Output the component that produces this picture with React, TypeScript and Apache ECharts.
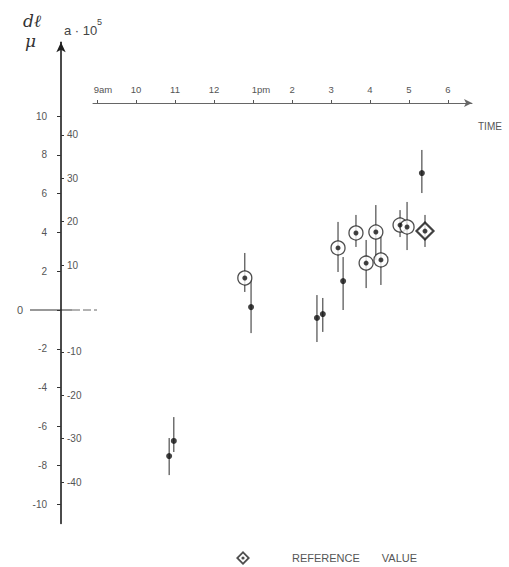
import React, { useEffect, useRef } from 'react';
import * as echarts from 'echarts';

// Time axis (hours, 24h clock) and its labels
const hours = [9, 10, 11, 12, 13, 14, 15, 16, 17, 18];
const hourLabels = ['9am', '10', '11', '12', '1pm', '2', '3', '4', '5', '6'];

// Left scale: dl/μ ; right scale: a·10^5
const dlTicks = [-10, -8, -6, -4, -2, 0, 2, 4, 6, 8, 10];
const aTicks = [-40, -30, -20, -10, 10, 20, 30, 40];

// Plain (filled dot) measurements: time, value, error-bar top, error-bar bottom
const plainTime = [10.85, 10.97, 12.95, 14.64, 14.79, 15.31, 17.33];
const plainValue = [-7.53, -6.75, 0.15, -0.41, -0.21, 1.49, 7.06];
const plainHigh = [-6.6, -5.52, 1.55, 0.77, 0.62, 2.73, 8.25];
const plainLow = [-8.51, -7.32, -1.19, -1.65, -1.13, 0.0, 6.03];

// Circled measurements
const circledTime = [12.79, 15.18, 15.64, 15.9, 16.15, 16.28, 16.77, 16.95];
const circledValue = [1.65, 3.2, 3.97, 2.42, 4.02, 2.58, 4.38, 4.28];
const circledHigh = [2.94, 4.54, 4.9, 3.61, 5.41, 3.76, 5.15, 5.57];
const circledLow = [0.93, 1.96, 3.25, 1.13, 2.58, 1.29, 3.76, 3.09];

// Reference value
const refTime = [17.41];
const refValue = [4.07];
const refHigh = [4.9];
const refLow = [3.25];

const FONT = 'Liberation Sans';
const LABEL_COLOR = '#555';

function errorBars(times: number[], hi: number[], lo: number[]) {
  return {
    type: 'custom',
    xAxisIndex: 0,
    yAxisIndex: 0,
    silent: true,
    z: 2,
    data: times.map((t, i) => [t, hi[i], lo[i]]),
    renderItem: (_params: any, api: any) => {
      const x = api.value(0);
      const p1 = api.coord([x, api.value(1)]);
      const p2 = api.coord([x, api.value(2)]);
      return {
        type: 'line',
        shape: { x1: p1[0], y1: p1[1], x2: p2[0], y2: p2[1] },
        style: { stroke: '#2a2a2a', lineWidth: 1 },
      };
    },
  };
}

const legendIcon =
  'path://M7 0 L14 7 L7 14 L0 7 Z M7 2.6 L2.6 7 L7 11.4 L11.4 7 Z M5.4 7 A1.6 1.6 0 1 1 8.6 7 A1.6 1.6 0 1 1 5.4 7 Z';

export default function App() {
  const ref = useRef<HTMLDivElement>(null);

  useEffect(() => {
    if (!ref.current) return;
    const chart = echarts.init(ref.current, null, { renderer: 'svg' });

    const option: any = {
      animation: false,
      backgroundColor: '#ffffff',
      grid: [
        { left: 61, top: 42.3, width: 411, height: 481.1, containLabel: false, outerBoundsMode: 'none' },
        { left: 93, top: 103, width: 379, height: 1, containLabel: false, outerBoundsMode: 'none' },
      ],
      xAxis: [
        { gridIndex: 0, type: 'value', min: 8.077, max: 18.615, show: false },
        {
          gridIndex: 1,
          type: 'value',
          position: 'top',
          min: 8.897,
          max: 18.615,
          axisLine: {
            show: true,
            onZero: false,
            lineStyle: { color: '#666', width: 1 },
            symbol: ['none', 'arrow'],
            symbolSize: [6, 8],
          },
          axisTick: { show: true, length: 3, customValues: hours, lineStyle: { color: '#555' } },
          axisLabel: {
            customValues: hours,
            margin: 9,
            fontSize: 9.5,
            fontFamily: FONT,
            color: LABEL_COLOR,
            formatter: (v: number) => {
              const i = hours.indexOf(Math.round(v));
              const s = i >= 0 ? hourLabels[i] : '';
              if (s === '9am') return '{s9|9am}';
              if (s === '1pm') return '{s1|1pm}';
              return s;
            },
            rich: {
              s9: { fontSize: 9.5, fontFamily: FONT, color: LABEL_COLOR, padding: [0, 0, 0, 12] },
              s1: { fontSize: 9.5, fontFamily: FONT, color: LABEL_COLOR, padding: [0, 0, 0, 16] },
            },
          },
          splitLine: { show: false },
        },
      ],
      yAxis: [
        {
          gridIndex: 0,
          type: 'value',
          position: 'left',
          min: -11,
          max: 13.8,
          axisLine: {
            show: true,
            onZero: false,
            lineStyle: { color: '#1e1e1e', width: 1.6 },
            symbol: ['none', 'arrow'],
            symbolSize: [7, 10],
          },
          axisTick: { show: true, length: 4, customValues: dlTicks, lineStyle: { color: '#333' } },
          axisLabel: {
            customValues: dlTicks,
            margin: 14,
            fontSize: 10,
            fontFamily: FONT,
            color: LABEL_COLOR,
            formatter: (v: number) => (Math.abs(v) < 1e-9 ? '{z|0}' : String(v)),
            rich: {
              z: { fontSize: 11, fontFamily: FONT, color: LABEL_COLOR, padding: [0, 24, 0, 0] },
            },
          },
          splitLine: { show: false },
        },
        {
          gridIndex: 0,
          type: 'value',
          position: 'left',
          min: -49.5,
          max: 61.3,
          axisLine: { show: false, onZero: false },
          axisTick: { show: true, inside: true, length: 3, customValues: aTicks, lineStyle: { color: '#333' } },
          axisLabel: {
            inside: true,
            customValues: aTicks,
            margin: 6,
            fontSize: 10,
            fontFamily: FONT,
            color: LABEL_COLOR,
          },
          splitLine: { show: false },
        },
        { gridIndex: 1, type: 'value', min: 0, max: 1, show: false },
      ],
      legend: {
        left: 236,
        top: 551,
        itemWidth: 14,
        itemHeight: 14,
        selectedMode: false,
        padding: 0,
        data: [
          {
            name: 'REFERENCE VALUE',
            icon: legendIcon,
            itemStyle: { color: '#222', borderWidth: 0 },
          },
        ],
        formatter: () => '{a|REFERENCE}{b|VALUE}',
        textStyle: {
          rich: {
            a: { fontSize: 11, fontFamily: FONT, color: LABEL_COLOR, padding: [0, 0, 0, 37] },
            b: { fontSize: 11, fontFamily: FONT, color: LABEL_COLOR, padding: [0, 0, 0, 22] },
          },
        },
      },
      series: [
        errorBars(plainTime, plainHigh, plainLow),
        errorBars(circledTime, circledHigh, circledLow),
        errorBars(refTime, refHigh, refLow),
        {
          name: 'circled',
          type: 'scatter',
          xAxisIndex: 0,
          yAxisIndex: 0,
          silent: true,
          z: 3,
          symbol: 'circle',
          symbolSize: 14,
          itemStyle: { color: '#ffffff', borderColor: '#222', borderWidth: 1.3 },
          data: circledTime.map((t, i) => [t, circledValue[i]]),
        },
        {
          name: 'REFERENCE VALUE',
          type: 'scatter',
          xAxisIndex: 0,
          yAxisIndex: 0,
          silent: true,
          z: 3,
          symbol: 'diamond',
          symbolSize: [17, 17],
          itemStyle: { color: '#ffffff', borderColor: '#111', borderWidth: 2.2 },
          data: refTime.map((t, i) => [t, refValue[i]]),
        },
        {
          name: 'plain dots',
          type: 'scatter',
          xAxisIndex: 0,
          yAxisIndex: 0,
          silent: true,
          z: 4,
          symbol: 'circle',
          symbolSize: 6,
          itemStyle: { color: '#111' },
          data: plainTime.map((t, i) => [t, plainValue[i]]),
        },
        {
          name: 'circled dots',
          type: 'scatter',
          xAxisIndex: 0,
          yAxisIndex: 0,
          silent: true,
          z: 4,
          symbol: 'circle',
          symbolSize: 5,
          itemStyle: { color: '#111' },
          data: circledTime.map((t, i) => [t, circledValue[i]]),
        },
        {
          name: 'ref dot',
          type: 'scatter',
          xAxisIndex: 0,
          yAxisIndex: 0,
          silent: true,
          z: 4,
          symbol: 'circle',
          symbolSize: 5,
          itemStyle: { color: '#111' },
          data: refTime.map((t, i) => [t, refValue[i]]),
        },
      ],
    };

    chart.setOption(option);

    const y0 = chart.convertToPixel({ yAxisIndex: 0 } as any, 0) as number;
    const axisX = chart.convertToPixel({ xAxisIndex: 0 } as any, 8.077) as number;

    chart.setOption({
      graphic: [
        { type: 'line', silent: true, shape: { x1: 30, y1: y0, x2: 72, y2: y0 }, style: { stroke: '#333', lineWidth: 1.1 } },
        {
          type: 'line',
          silent: true,
          shape: { x1: 72, y1: y0, x2: 97, y2: y0 },
          style: { stroke: '#666', lineWidth: 1, lineDash: [8, 3] },
        },
        {
          type: 'text',
          silent: true,
          left: 23,
          top: 12,
          style: { text: 'dℓ', font: 'italic 17px "DejaVu Serif"', fill: '#333' },
        },
        {
          type: 'text',
          silent: true,
          left: 25,
          top: 32,
          style: { text: 'μ', font: 'italic 17px "DejaVu Serif"', fill: '#333' },
        },
        {
          type: 'text',
          silent: true,
          left: axisX + 3,
          top: 24,
          style: { text: 'a · 10', font: '13px "Liberation Sans"', fill: '#444' },
        },
        {
          type: 'text',
          silent: true,
          left: axisX + 36,
          top: 17,
          style: { text: '5', font: '9px "Liberation Sans"', fill: '#444' },
        },
        {
          type: 'text',
          silent: true,
          left: 478,
          top: 121,
          style: { text: 'TIME', font: '10px "Liberation Sans"', fill: '#555' },
        },
      ],
    });

    return () => chart.dispose();
  }, []);

  return (
    <div
      ref={ref}
      style={{ position: 'absolute', left: 0, top: 0, width: 509, height: 567, background: '#fff' }}
    />
  );
}
